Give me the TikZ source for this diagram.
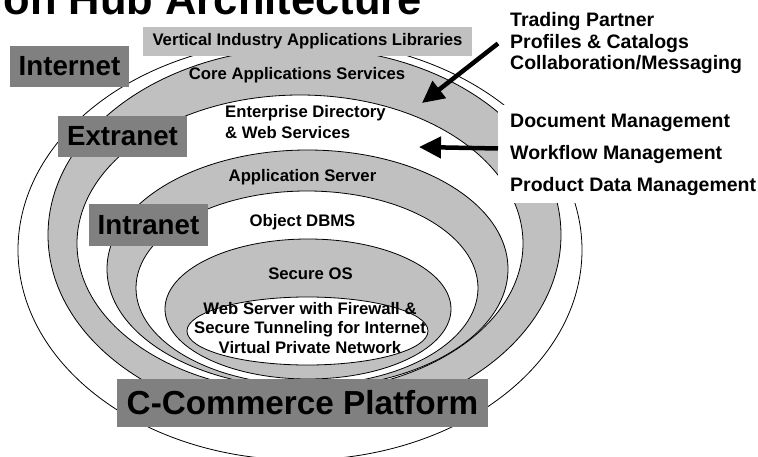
\documentclass[tikz,border=0pt]{standalone}
\usepackage{fontspec}
\setmainfont{Liberation Sans}
\usetikzlibrary{arrows.meta,positioning}
\definecolor{RingGray}{RGB}{192,192,192}
\definecolor{TagGray}{RGB}{128,128,128}

\begin{document}
\begin{tikzpicture}[
    x=1pt, y=-1pt,
    ring/.style={draw=black, line width=0.8pt, fill=#1},
    ring/.default=white,
    layer/.style={font=\fontsize{16.7}{21}\selectfont\bfseries, align=center, inner sep=0pt},
    tag/.style={fill=TagGray, inner sep=0pt, minimum height=41pt, font=\fontsize{27.7}{30}\selectfont\bfseries},
    side/.style={font=\fontsize{19.5}{21.5}\selectfont\bfseries, align=left, inner xsep=12pt, inner ysep=0pt},
    pointer/.style={line width=4.5pt, -{Triangle[length=22pt,width=21pt]}}
  ]
    \useasboundingbox (0,0) rectangle (758,457);
    \clip (0,0) rectangle (758,457);

    \node[font=\fontsize{43.5}{46}\selectfont\bfseries, anchor=base east, inner sep=0pt] (title) at (422,15) {Collaboration Hub Architecture};

    \path[ring] (300,250) ellipse [x radius=282pt, y radius=210pt];
    \path[ring=RingGray] (304.5,235) ellipse [x radius=256.5pt, y radius=187pt];
    \path[ring] (300,243.5) ellipse [x radius=223pt, y radius=148.5pt];
    \path[ring=RingGray] (307.5,269) ellipse [x radius=200.5pt, y radius=119pt];
    \path[ring] (307,288) ellipse [x radius=171pt, y radius=97pt];
    \path[ring=RingGray] (308,309) ellipse [x radius=143pt, y radius=70pt];
    \path[ring] (307.5,331) ellipse [x radius=120.5pt, y radius=34pt];

    \node[layer, fill=RingGray, minimum width=329pt, minimum height=29pt] (vert) at (307.5,41.5) {Vertical Industry Applications Libraries};
    \node[layer] (core) at (297,75) {Core Applications Services};
    \node[layer, align=left, anchor=west] (dir) at (225,122.5) {Enterprise Directory\\\& Web Services};
    \node[layer] (appsrv) at (302.5,177) {Application Server};
    \node[layer] (odbms) at (302.5,222) {Object DBMS};
    \node[layer] (secos) at (310.5,274) {Secure OS};
    \node[layer, font=\fontsize{16.7}{19.5}\selectfont\bfseries] (websrv) at (310,328) {Web Server with Firewall \&\\Secure Tunneling for Internet\\Virtual Private Network};

    \node[tag, minimum width=119pt] (internet) at (69.5,66.5) {Internet};
    \node[tag, minimum width=129pt] (extranet) at (122.5,136.5) {Extranet};
    \node[tag, minimum width=119pt, minimum height=42pt] (intranet) at (148.5,225) {Intranet};
    \node[tag, minimum width=371pt, minimum height=48pt, font=\fontsize{33.3}{36}\selectfont\bfseries] (platform) at (302.5,403) {C-Commerce Platform};

    \fill[white] (498,105) rectangle (758,203);

    \node[side, anchor=west] (partners) at (498,43.5) {Trading Partner\\Profiles \& Catalogs\\Collaboration/Messaging};
    \node[side, anchor=base west] (docmgmt) at (498,128) {Document Management};
    \node[side, anchor=base west] (wflow) at (498,159.5) {Workflow Management};
    \node[side, anchor=base west] (pdm) at (498,192) {Product Data Management};

    \coordinate (tipA) at (422,103);
    \coordinate (tipB) at (419,147);
    \draw[pointer] (partners.west) -- (tipA);
    \draw[pointer] ([yshift=6pt]wflow.west) -- (tipB);
  \end{tikzpicture}
\end{document}
